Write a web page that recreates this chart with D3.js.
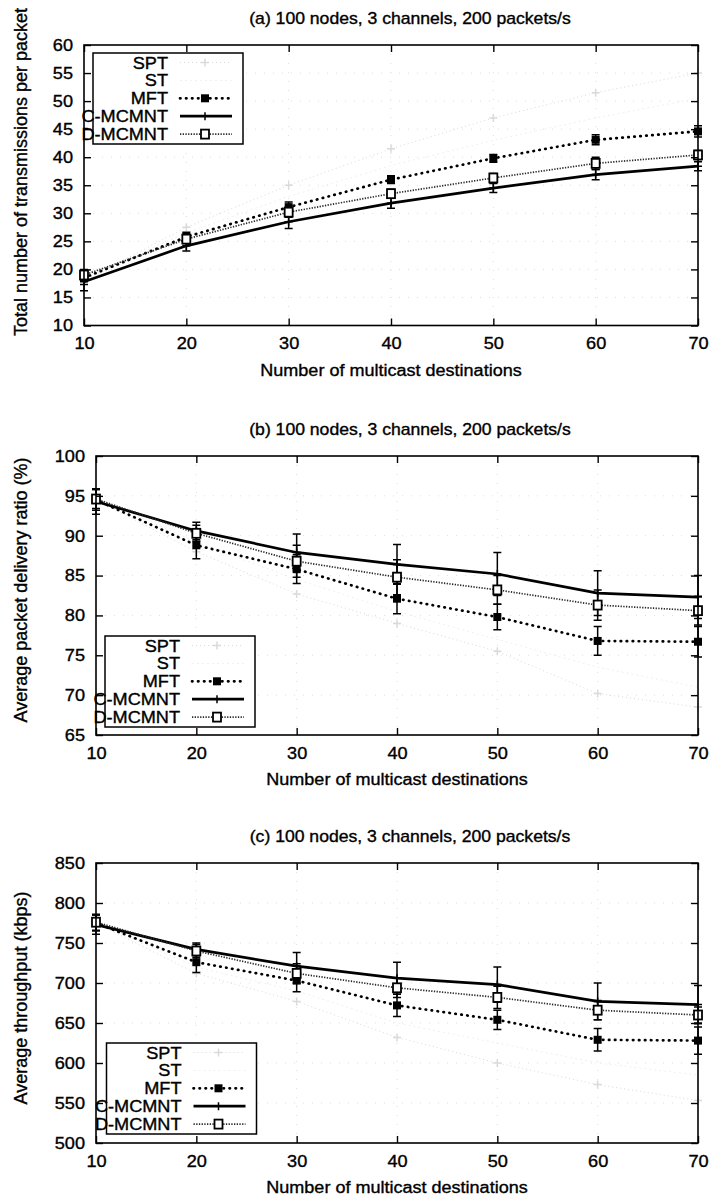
<!DOCTYPE html>
<html>
<head>
<meta charset="utf-8">
<script src="https://cdn.jsdelivr.net/npm/d3@7"></script>
<style>
  html, body { margin: 0; padding: 0; background: #fff; }
  svg { display: block; }
  svg text { stroke: #000; stroke-width: 0.35px; paint-order: fill; }
</style>
</head>
<body>
<svg id="chart" width="714" height="1199"></svg>
<script>
// ---- data -------------------------------------------------------------
const destinations = [10, 20, 30, 40, 50, 60, 70];
const seriesNames = ["SPT", "ST", "MFT", "C-MCMNT", "D-MCMNT"];
const panelTitles = [
  "(a) 100 nodes, 3 channels, 200 packets/s",
  "(b) 100 nodes, 3 channels, 200 packets/s",
  "(c) 100 nodes, 3 channels, 200 packets/s"
];
const yAxisTitles = [
  "Total number of transmissions per packet",
  "Average packet delivery ratio (%)",
  "Average throughput (kbps)"
];
const xAxisTitle = "Number of multicast destinations";

// (a) transmissions per packet
const txTicks = [10, 15, 20, 25, 30, 35, 40, 45, 50, 55, 60];
const txSPT = [18.0, 27.5, 35.0, 41.5, 47.0, 51.5, 55.0];
const txST  = [18.5, 26.5, 33.0, 38.5, 43.0, 47.0, 50.5];
const txMFT = [18.5, 25.8, 31.1, 36.0, 39.8, 43.1, 44.6];
const txCM  = [17.8, 24.2, 28.5, 31.8, 34.5, 36.9, 38.4];
const txDM  = [19.0, 25.4, 30.2, 33.5, 36.3, 38.9, 40.4];
const txMFTErr = [1.2, 0.8, 0.9, 0.7, 0.7, 0.9, 1.0];
const txCMErr  = [1.6, 0.9, 1.2, 0.9, 0.8, 0.9, 0.8];
const txDMErr  = [1.0, 0.8, 0.9, 0.8, 0.8, 1.1, 0.8];

// (b) packet delivery ratio
const pdrTicks = [65, 70, 75, 80, 85, 90, 95, 100];
const pdrSPT = [94.5, 88.0, 82.7, 79.0, 75.5, 70.2, 68.5];
const pdrST  = [94.8, 89.2, 84.5, 80.5, 77.0, 73.5, 71.0];
const pdrMFT = [94.5, 88.8, 85.8, 82.1, 79.8, 76.8, 76.7];
const pdrCM  = [94.3, 90.6, 87.9, 86.4, 85.2, 82.8, 82.3];
const pdrDM  = [94.6, 90.3, 86.8, 84.8, 83.2, 81.3, 80.6];
const pdrMFTErr = [1.3, 1.7, 1.8, 1.9, 1.6, 1.8, 1.9];
const pdrCMErr  = [1.6, 1.1, 2.3, 2.5, 2.7, 2.8, 2.7];
const pdrDMErr  = [1.2, 1.0, 2.0, 2.2, 1.8, 1.9, 1.8];

// (c) throughput
const thrTicks = [500, 550, 600, 650, 700, 750, 800, 850];
const thrSPT = [775, 712, 677, 632, 600, 573, 553];
const thrST  = [776, 720, 690, 650, 625, 600, 585];
const thrMFT = [775, 726, 703, 672, 654, 629, 628];
const thrCM  = [773, 742, 721, 706, 698, 677, 673];
const thrDM  = [776, 740, 712, 694, 682, 666, 660];
const thrMFTErr = [10, 13, 14, 14, 12, 14, 17];
const thrCMErr  = [12, 8, 17, 20, 22, 23, 24];
const thrDMErr  = [10, 8, 12, 12, 14, 12, 10];

// ---- styling ------------------------------------------------------------
const FONT = '"Liberation Sans", Arial, Helvetica, sans-serif';
const SX = 1.1; // horizontal stretch of the lettering

const styles = {
  "SPT":     { color: "#dadada", width: 1.0, dash: "1,3",     cap: "butt",  marker: "plus",  faint: true },
  "ST":      { color: "#f0f0f0", width: 1.0, dash: "2,3",     cap: "butt",  marker: "none",  faint: true },
  "MFT":     { color: "#000",    width: 2.7, dash: "0.5,5.5", cap: "round", marker: "fill" },
  "C-MCMNT": { color: "#000",    width: 2.7, dash: null,      cap: "butt",  marker: "plus" },
  "D-MCMNT": { color: "#2a2a2a", width: 1.7, dash: "1.3,1.4", cap: "butt",  marker: "open" }
};

const panels = [
  { top: 45,  bottom: 325.5, left: 84, right: 698, ticks: txTicks, yTitleY: 172,
    legend: { x: 93, y: 53 },
    data: { "SPT": txSPT, "ST": txST, "MFT": txMFT, "C-MCMNT": txCM, "D-MCMNT": txDM },
    err:  { "MFT": txMFTErr, "C-MCMNT": txCMErr, "D-MCMNT": txDMErr } },
  { top: 456, bottom: 735, left: 96, right: 698, ticks: pdrTicks, yTitleY: 590,
    legend: { x: 105, y: 636 },
    data: { "SPT": pdrSPT, "ST": pdrST, "MFT": pdrMFT, "C-MCMNT": pdrCM, "D-MCMNT": pdrDM },
    err:  { "MFT": pdrMFTErr, "C-MCMNT": pdrCMErr, "D-MCMNT": pdrDMErr } },
  { top: 863, bottom: 1143, left: 96, right: 698, ticks: thrTicks, yTitleY: 998,
    legend: { x: 106.5, y: 1043 },
    data: { "SPT": thrSPT, "ST": thrST, "MFT": thrMFT, "C-MCMNT": thrCM, "D-MCMNT": thrDM },
    err:  { "MFT": thrMFTErr, "C-MCMNT": thrCMErr, "D-MCMNT": thrDMErr } }
];

const svg = d3.select("#chart");
svg.append("rect").attr("width", 714).attr("height", 1199).attr("fill", "#fff");

function label(g, x, y, str, size, anchor) {
  return g.append("text")
    .attr("transform", `translate(${x},${y}) scale(${SX},1)`)
    .attr("text-anchor", anchor || "middle")
    .attr("font-family", FONT)
    .attr("font-size", size)
    .attr("fill", "#000")
    .text(str);
}

function stretchTicks(axisG) {
  axisG.selectAll("text").each(function () {
    const t = d3.select(this);
    const tx = +t.attr("x") || 0, ty = +t.attr("y") || 0;
    t.attr("x", null).attr("y", null)
     .attr("transform", `translate(${tx},${ty}) scale(${SX},1)`)
     .attr("fill", "#000");
  });
}

function drawMarker(g, kind, cx, cy, st) {
  if (kind === "fill") {
    g.append("rect").attr("x", cx - 4).attr("y", cy - 4).attr("width", 8).attr("height", 8)
      .attr("fill", "#000");
  } else if (kind === "open") {
    g.append("rect").attr("x", cx - 4).attr("y", cy - 4.5).attr("width", 8).attr("height", 9)
      .attr("fill", "#fff").attr("stroke", "#000").attr("stroke-width", 1.8);
  } else if (kind === "plus") {
    const c = st.faint ? st.color : "#000";
    g.append("path").attr("d", `M${cx - 4},${cy}H${cx + 4}M${cx},${cy - 4}V${cy + 4}`)
      .attr("stroke", c).attr("stroke-width", 1.5).attr("fill", "none");
  }
}

panels.forEach((p, pi) => {
  const g = svg.append("g");
  const x = d3.scaleLinear().domain([10, 70]).range([p.left, p.right]);
  const y = d3.scaleLinear().domain([p.ticks[0], p.ticks[p.ticks.length - 1]]).range([p.bottom, p.top]);

  // faint dotted grid
  const grid = g.append("g").attr("stroke", "#dedede").attr("stroke-width", 1).attr("stroke-dasharray", "1,8");
  grid.selectAll("line.h").data(p.ticks.slice(1, -1)).join("line").attr("class", "h")
    .attr("x1", p.left).attr("x2", p.right).attr("y1", d => y(d)).attr("y2", d => y(d));
  grid.selectAll("line.v").data(destinations.slice(1, -1)).join("line").attr("class", "v")
    .attr("y1", p.top).attr("y2", p.bottom).attr("x1", d => x(d)).attr("x2", d => x(d));

  // series: lines, error bars, markers
  const line = d3.line().x((d, i) => x(destinations[i])).y(d => y(d));
  seriesNames.forEach(name => {
    const st = styles[name];
    const vals = p.data[name];
    const errs = p.err[name];
    g.append("path").datum(vals).attr("d", line)
      .attr("fill", "none").attr("stroke", st.color).attr("stroke-width", st.width)
      .attr("stroke-dasharray", st.dash).attr("stroke-linecap", st.cap);
    if (errs) {
      vals.forEach((v, i) => {
        const cx = x(destinations[i]);
        const y0 = y(v - errs[i]), y1 = y(v + errs[i]);
        g.append("path")
          .attr("d", `M${cx},${y0}V${y1}M${cx - 4},${y0}H${cx + 4}M${cx - 4},${y1}H${cx + 4}`)
          .attr("stroke", "#000").attr("stroke-width", 1.5).attr("fill", "none");
      });
    }
    vals.forEach((v, i) => drawMarker(g, st.marker, x(destinations[i]), y(v), st));
  });

  // legend
  const L = p.legend;
  g.append("rect").attr("x", L.x).attr("y", L.y).attr("width", 150).attr("height", 91)
    .attr("fill", "#fff").attr("stroke", "#000").attr("stroke-width", 1.5);
  seriesNames.forEach((name, i) => {
    const st = styles[name];
    const cy = L.y + 9.5 + i * 17.9;
    label(g, L.x + 75, cy + 6, name, 16.5, "end");
    g.append("line").attr("x1", L.x + 87).attr("x2", L.x + 139).attr("y1", cy).attr("y2", cy)
      .attr("stroke", st.color).attr("stroke-width", st.width)
      .attr("stroke-dasharray", st.dash).attr("stroke-linecap", st.cap);
    drawMarker(g, st.marker, L.x + 112, cy, st);
  });

  // frame
  g.append("rect").attr("x", p.left).attr("y", p.top)
    .attr("width", p.right - p.left).attr("height", p.bottom - p.top)
    .attr("fill", "none").attr("stroke", "#000").attr("stroke-width", 1.6);

  // axes with inward ticks on all four sides
  const axL = g.append("g").attr("transform", `translate(${p.left},0)`)
    .call(d3.axisLeft(y).tickValues(p.ticks).tickSize(-7).tickPadding(11));
  const axR = g.append("g").attr("transform", `translate(${p.right},0)`)
    .call(d3.axisRight(y).tickValues(p.ticks).tickSize(-7).tickFormat(""));
  const axB = g.append("g").attr("transform", `translate(0,${p.bottom})`)
    .call(d3.axisBottom(x).tickValues(destinations).tickSize(-7).tickPadding(12));
  const axT = g.append("g").attr("transform", `translate(0,${p.top})`)
    .call(d3.axisTop(x).tickValues(destinations).tickSize(-7).tickFormat(""));
  [axL, axR, axB, axT].forEach(a => {
    a.attr("font-family", FONT).attr("font-size", 16.5);
    a.select(".domain").remove();
    a.selectAll("line").attr("stroke", "#000").attr("stroke-width", 1.4);
  });
  stretchTicks(axL);
  stretchTicks(axB);

  // titles
  label(g, 410, p.top - 21.5, panelTitles[pi], 16);
  label(g, (p.left + p.right) / 2, p.bottom + 50, xAxisTitle, 16.4);
  g.append("text")
    .attr("transform", `translate(27,${p.yTitleY}) rotate(-90)`)
    .attr("text-anchor", "middle")
    .attr("font-family", FONT).attr("font-size", 18).attr("fill", "#000")
    .text(yAxisTitles[pi]);
});
</script>
</body>
</html>
